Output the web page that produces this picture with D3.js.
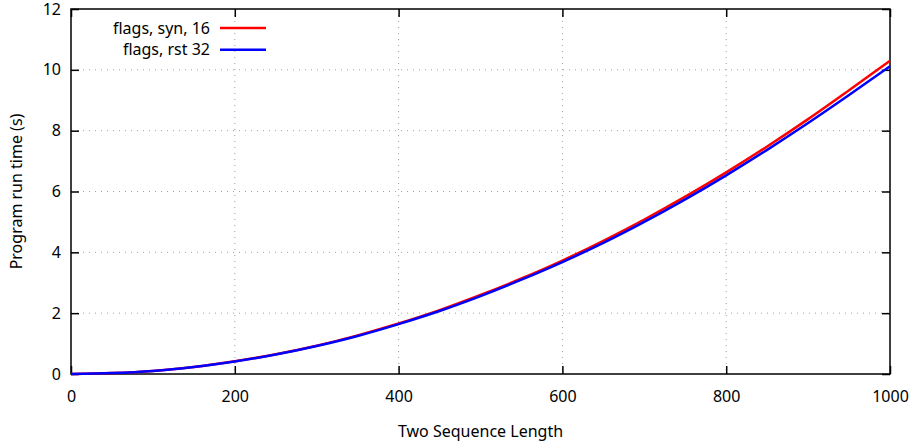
<!DOCTYPE html>
<html>
<head>
<meta charset="utf-8">
<script src="https://cdn.jsdelivr.net/npm/d3@7"></script>
<style>
  body { margin: 0; background: #fff; }
  text { font-family: "Noto Sans", sans-serif; font-size: 16px; fill: #000; }
</style>
</head>
<body>
<script>
// values
var lengths = [0, 50, 100, 150, 200, 250, 300, 350, 400, 450, 500, 550, 600, 650, 700, 750, 800, 850, 900, 950, 1000];
var synTimes = [0, 0.03, 0.10, 0.23, 0.42, 0.65, 0.93, 1.27, 1.66, 2.10, 2.60, 3.14, 3.73, 4.38, 5.08, 5.83, 6.63, 7.48, 8.38, 9.33, 10.30];
var rstTimes = [0, 0.03, 0.10, 0.23, 0.41, 0.64, 0.92, 1.25, 1.64, 2.07, 2.56, 3.10, 3.68, 4.31, 5.00, 5.74, 6.53, 7.37, 8.25, 9.17, 10.12];
var seriesNames = ["flags, syn, 16", "flags, rst 32"];
var seriesColors = ["#ff0000", "#0000ff"];
var xTicks = [0, 200, 400, 600, 800, 1000];
var yTicks = [0, 2, 4, 6, 8, 10, 12];

var width = 916, height = 448;
var mLeft = 71, mRight = 890, mTop = 9, mBottom = 374;
var fontSize = "16px";

var svg = d3.select("body").append("svg")
    .attr("width", width)
    .attr("height", height);

var x = d3.scaleLinear().domain([0, 1000]).range([mLeft, mRight]);
var y = d3.scaleLinear().domain([0, 12]).range([mBottom, mTop]);

// grid
svg.append("g").selectAll("line")
    .data(xTicks.slice(1, -1))
    .enter().append("line")
    .attr("x1", d => x(d)).attr("x2", d => x(d))
    .attr("y1", mTop).attr("y2", mBottom)
    .style("stroke", "#a0a0a0").style("stroke-width", 1).style("stroke-dasharray", "1,5");
svg.append("g").selectAll("line")
    .data(yTicks.slice(1, -1))
    .enter().append("line")
    .attr("x1", mLeft).attr("x2", mRight)
    .attr("y1", d => y(d)).attr("y2", d => y(d))
    .style("stroke", "#a0a0a0").style("stroke-width", 1).style("stroke-dasharray", "1,5");

// axes (gnuplot style, inward ticks mirrored)
var tick = 8;
var fmt = d3.format("d");
svg.append("g").attr("transform", "translate(0," + mBottom + ")")
    .call(d3.axisBottom(x).tickValues(xTicks).tickFormat(fmt).tickSizeInner(-tick).tickSizeOuter(0).tickPadding(17))
    .call(g => g.select(".domain").remove());
svg.append("g").attr("transform", "translate(0," + mTop + ")")
    .call(d3.axisTop(x).tickValues(xTicks).tickSizeInner(-tick).tickSizeOuter(0).tickFormat(""))
    .call(g => g.select(".domain").remove());
svg.append("g").attr("transform", "translate(" + mLeft + ",0)")
    .call(d3.axisLeft(y).tickValues(yTicks).tickFormat(fmt).tickSizeInner(-tick).tickSizeOuter(0).tickPadding(10))
    .call(g => g.select(".domain").remove());
svg.append("g").attr("transform", "translate(" + mRight + ",0)")
    .call(d3.axisRight(y).tickValues(yTicks).tickSizeInner(-tick).tickSizeOuter(0).tickFormat(""))
    .call(g => g.select(".domain").remove());
svg.selectAll(".tick line").style("stroke", "#000").style("stroke-width", 1.5);
svg.selectAll(".tick text").style("font-family", "Noto Sans, sans-serif").style("font-size", fontSize);

svg.append("rect")
    .attr("x", mLeft).attr("y", mTop)
    .attr("width", mRight - mLeft).attr("height", mBottom - mTop)
    .style("fill", "none").style("stroke", "#000").style("stroke-width", 1.5);

// curves
var line = d3.line()
    .x((d, i) => x(lengths[i]))
    .y(d => y(d))
    .curve(d3.curveMonotoneX);
[synTimes, rstTimes].forEach(function (s, k) {
    svg.append("path")
        .attr("d", line(s))
        .style("fill", "none")
        .style("stroke", seriesColors[k])
        .style("stroke-width", 2.5);
});

// legend
seriesNames.forEach(function (name, k) {
    var ly = 28 + k * 21.7;
    svg.append("text").attr("x", 210).attr("y", ly).attr("dy", "0.35em")
        .attr("text-anchor", "end").text(name);
    svg.append("line").attr("x1", 220).attr("x2", 266).attr("y1", ly).attr("y2", ly)
        .style("stroke", seriesColors[k]).style("stroke-width", 2.5);
});

// axis titles
svg.append("text").attr("x", (mLeft + mRight) / 2).attr("y", 437)
    .attr("text-anchor", "middle").text("Two Sequence Length");
svg.append("text").attr("transform", "translate(22," + ((mTop + mBottom) / 2) + ") rotate(-90)")
    .attr("text-anchor", "middle").text("Program run time (s)");
</script>
</body>
</html>
